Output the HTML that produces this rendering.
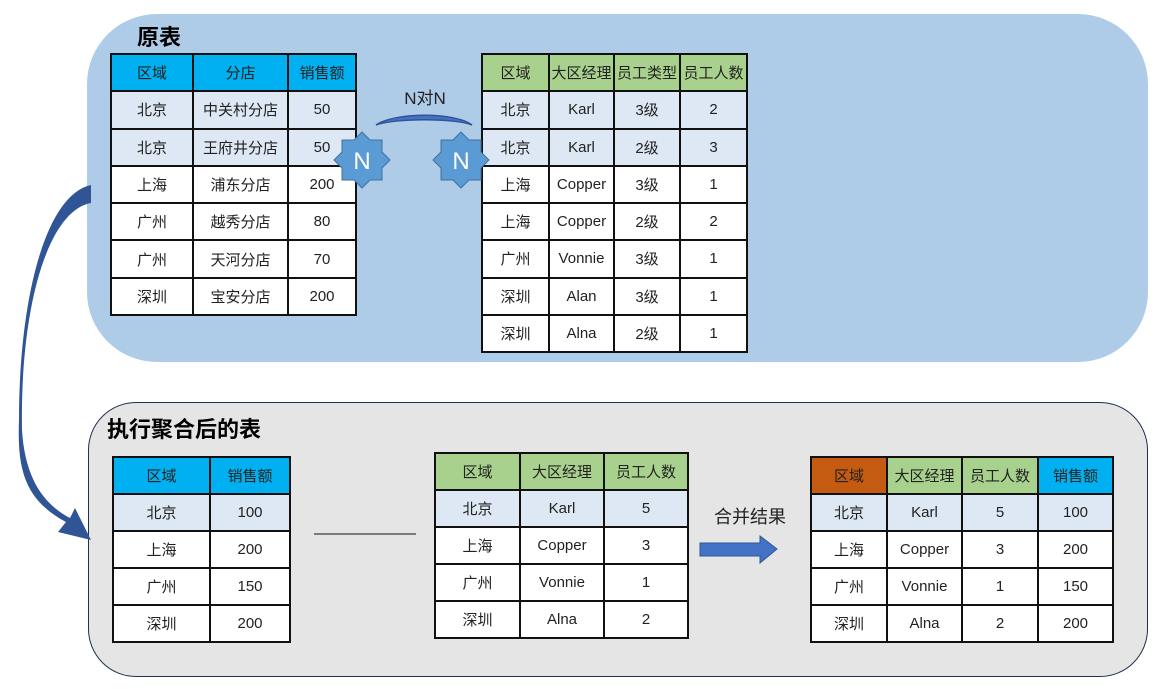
<!DOCTYPE html>
<html><head><meta charset="utf-8"><style>
body{margin:0;width:1173px;height:689px;background:#fff;position:relative;overflow:hidden;font-family:"Liberation Sans","Noto Sans CJK SC",sans-serif;}
.box{position:absolute;box-sizing:border-box}
table{position:absolute;border-collapse:collapse;font-size:15px;color:#222;table-layout:fixed}
td{border:2px solid #111;text-align:center;padding:0;background:#fff}
.b td{background:#00b0f0}
.g td{background:#a9d18e}
.l td{background:#dde8f4}
.t{position:absolute;font-weight:bold;font-size:22px;color:#000}
</style></head><body>
<div class="box" style="left:87px;top:14px;width:1061px;height:348px;background:#aecbe8;border-radius:70px;"></div>
<div class="box" style="left:88px;top:402px;width:1060px;height:275px;background:#e5e5e5;border:1.5px solid #1f3050;border-radius:48px;"></div>
<div class="t" style="left:137px;top:20px">原表</div>
<div class="t" style="left:107px;top:412px">执行聚合后的表</div>

<svg width="1173" height="689" style="position:absolute;left:0;top:0">
<path d="M91,185 L91,203 C50,210 20,300 22,430 C25,480 45,505 70,518 L75,508 L91,540 L58,532 L66,522 C25,500 17,470 19,420 C19,300 45,195 91,185 Z" fill="#2f5597"/>
<path d="M376,125 C395,112 455,112 472,125 C455,118 395,118 376,125 Z" fill="#4472c4" stroke="#2f5597" stroke-width="1.5"/>
<text x="425" y="104" font-size="17" fill="#222" text-anchor="middle" font-family="Liberation Sans,Noto Sans CJK SC">N对N</text>
<line x1="314" y1="534" x2="416" y2="534" stroke="#111" stroke-width="1"/>
<polygon points="700,543 760,543 760,536 777,549 760,563 760,556 700,556" fill="#4472c4" stroke="#2f5597"/>
<text x="750" y="523" font-size="18" fill="#222" text-anchor="middle" font-family="Noto Sans CJK SC">合并结果</text>
</svg>

<table style="left:110px;top:53px;width:245px;height:263px">
<colgroup><col style="width:82px"><col style="width:95px"><col style="width:68px"></colgroup>
<tr class="b"><td>区域</td><td>分店</td><td>销售额</td></tr>
<tr class="l"><td>北京</td><td>中关村分店</td><td>50</td></tr>
<tr class="l"><td>北京</td><td>王府井分店</td><td>50</td></tr>
<tr><td>上海</td><td>浦东分店</td><td>200</td></tr>
<tr><td>广州</td><td>越秀分店</td><td>80</td></tr>
<tr><td>广州</td><td>天河分店</td><td>70</td></tr>
<tr><td>深圳</td><td>宝安分店</td><td>200</td></tr>
</table>

<table style="left:481px;top:53px;width:265px;height:300px">
<colgroup><col style="width:67px"><col style="width:65px"><col style="width:66px"><col style="width:67px"></colgroup>
<tr class="g"><td>区域</td><td>大区经理</td><td>员工类型</td><td>员工人数</td></tr>
<tr class="l"><td>北京</td><td>Karl</td><td>3级</td><td>2</td></tr>
<tr class="l"><td>北京</td><td>Karl</td><td>2级</td><td>3</td></tr>
<tr><td>上海</td><td>Copper</td><td>3级</td><td>1</td></tr>
<tr><td>上海</td><td>Copper</td><td>2级</td><td>2</td></tr>
<tr><td>广州</td><td>Vonnie</td><td>3级</td><td>1</td></tr>
<tr><td>深圳</td><td>Alan</td><td>3级</td><td>1</td></tr>
<tr><td>深圳</td><td>Alna</td><td>2级</td><td>1</td></tr>
</table>

<table style="left:112px;top:456px;width:177px;height:187px">
<colgroup><col style="width:97px"><col style="width:80px"></colgroup>
<tr class="b"><td>区域</td><td>销售额</td></tr>
<tr class="l"><td>北京</td><td>100</td></tr>
<tr><td>上海</td><td>200</td></tr>
<tr><td>广州</td><td>150</td></tr>
<tr><td>深圳</td><td>200</td></tr>
</table>

<table style="left:434px;top:452px;width:253px;height:187px">
<colgroup><col style="width:85px"><col style="width:84px"><col style="width:84px"></colgroup>
<tr class="g"><td>区域</td><td>大区经理</td><td>员工人数</td></tr>
<tr class="l"><td>北京</td><td>Karl</td><td>5</td></tr>
<tr><td>上海</td><td>Copper</td><td>3</td></tr>
<tr><td>广州</td><td>Vonnie</td><td>1</td></tr>
<tr><td>深圳</td><td>Alna</td><td>2</td></tr>
</table>

<table style="left:810px;top:456px;width:302px;height:187px">
<colgroup><col style="width:76px"><col style="width:75px"><col style="width:76px"><col style="width:75px"></colgroup>
<tr><td style="background:#c55a11">区域</td><td style="background:#a9d18e">大区经理</td><td style="background:#a9d18e">员工人数</td><td style="background:#00b0f0">销售额</td></tr>
<tr class="l"><td>北京</td><td>Karl</td><td>5</td><td>100</td></tr>
<tr><td>上海</td><td>Copper</td><td>3</td><td>200</td></tr>
<tr><td>广州</td><td>Vonnie</td><td>1</td><td>150</td></tr>
<tr><td>深圳</td><td>Alna</td><td>2</td><td>200</td></tr>
</table>

<svg width="1173" height="689" style="position:absolute;left:0;top:0">
<g fill="#5b9bd5" stroke="#41719c" stroke-width="1">
<polygon points="362,132 370,140 382,140 382,152 390,160 382,168 382,180 370,180 362,188 354,180 342,180 342,168 334,160 342,152 342,140 354,140"/>
<polygon points="461,132 469,140 481,140 481,152 489,160 481,168 481,180 469,180 461,188 453,180 441,180 441,168 433,160 441,152 441,140 453,140"/>
</g>
<text x="362" y="169" font-size="24" fill="#fff" text-anchor="middle" font-family="Liberation Sans">N</text>
<text x="461" y="169" font-size="24" fill="#fff" text-anchor="middle" font-family="Liberation Sans">N</text>
</svg>
</body></html>
